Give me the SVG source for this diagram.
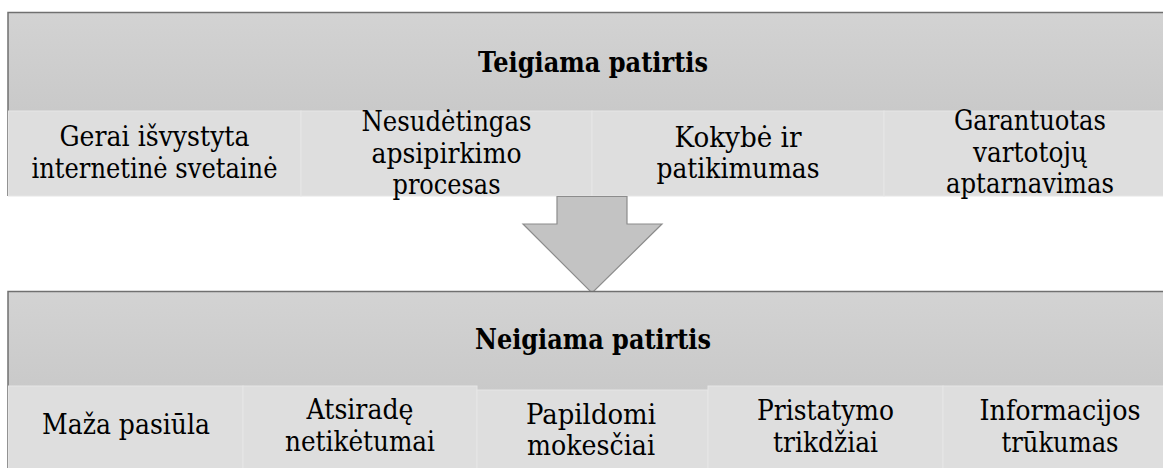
<svg xmlns="http://www.w3.org/2000/svg" width="1163" height="468" viewBox="0 0 1163 468">
<defs>
<linearGradient id="hdr" x1="0" y1="0" x2="0" y2="1">
<stop offset="0" stop-color="#d3d3d3"/>
<stop offset="1" stop-color="#c9c9c9"/>
</linearGradient>
<style>
.hdr{fill:url(#hdr);}
.cell{fill:#dedede;stroke:#e6e6e6;stroke-width:1;}
.border{fill:none;stroke:#707070;stroke-width:1.5;}
.arrow{fill:#c3c3c3;stroke:#8c8c8c;stroke-width:1.2;}
text{font-family:'DejaVu Serif','Liberation Serif',serif;font-size:28px;fill:#000;text-anchor:middle;}
.h{font-weight:bold;}
</style>
</defs>
<rect width="1163" height="468" fill="#ffffff"/>
<g id="top-group">
<rect class="hdr" x="8" y="12" width="1170" height="99"/>
<text class="h" x="593" y="72" textLength="230" lengthAdjust="spacingAndGlyphs">Teigiama patirtis</text>
<path class="border" d="M8,196 V12.5 H1170"/>
</g>
<g id="top-cell-1">
<rect class="cell" x="8.5" y="111" width="292.5" height="85"/>
<text x="154.5" y="146" textLength="190" lengthAdjust="spacingAndGlyphs">Gerai išvystyta</text>
<text x="154.5" y="177.5" textLength="246" lengthAdjust="spacingAndGlyphs">internetinė svetainė</text>
</g>
<g id="top-cell-2">
<rect class="cell" x="301" y="111" width="291" height="85"/>
<text x="446.5" y="131" textLength="170" lengthAdjust="spacingAndGlyphs">Nesudėtingas</text>
<text x="446.5" y="162.5" textLength="150" lengthAdjust="spacingAndGlyphs">apsipirkimo</text>
<text x="446.5" y="194" textLength="108" lengthAdjust="spacingAndGlyphs">procesas</text>
</g>
<g id="top-cell-3">
<rect class="cell" x="592" y="111" width="292" height="85"/>
<text x="738" y="147" textLength="127" lengthAdjust="spacingAndGlyphs">Kokybė ir</text>
<text x="738" y="178" textLength="163" lengthAdjust="spacingAndGlyphs">patikimumas</text>
</g>
<g id="top-cell-4">
<rect class="cell" x="884" y="111" width="292" height="85"/>
<text x="1030" y="130" textLength="152" lengthAdjust="spacingAndGlyphs">Garantuotas</text>
<text x="1030" y="161.5" textLength="114" lengthAdjust="spacingAndGlyphs">vartotojų</text>
<text x="1030" y="193" textLength="168" lengthAdjust="spacingAndGlyphs">aptarnavimas</text>
</g>
<g id="connectors">
<path class="arrow" d="M557,196.5 H627 V224 H662 L592,293 L523,224 H557 Z"/>
</g>
<g id="bottom-group">
<rect class="hdr" x="8" y="291" width="1170" height="100"/>
<text class="h" x="593" y="349" textLength="236" lengthAdjust="spacingAndGlyphs">Neigiama patirtis</text>
<path class="border" d="M8,468 V291.5 H1170"/>
</g>
<g id="bottom-cell-1">
<rect class="cell" x="8.5" y="386" width="234.5" height="90"/>
<text x="126" y="434" textLength="168" lengthAdjust="spacingAndGlyphs">Maža pasiūla</text>
</g>
<g id="bottom-cell-2">
<rect class="cell" x="243" y="386" width="234" height="90"/>
<text x="360" y="419" textLength="107" lengthAdjust="spacingAndGlyphs">Atsiradę</text>
<text x="360" y="451" textLength="150" lengthAdjust="spacingAndGlyphs">netikėtumai</text>
</g>
<g id="bottom-cell-3">
<rect class="cell" x="477" y="390" width="231" height="90"/>
<text x="591" y="424" textLength="130" lengthAdjust="spacingAndGlyphs">Papildomi</text>
<text x="591" y="455" textLength="128" lengthAdjust="spacingAndGlyphs">mokesčiai</text>
</g>
<g id="bottom-cell-4">
<rect class="cell" x="708" y="386" width="235" height="90"/>
<text x="825.5" y="420" textLength="137" lengthAdjust="spacingAndGlyphs">Pristatymo</text>
<text x="825.5" y="451.5" textLength="105" lengthAdjust="spacingAndGlyphs">trikdžiai</text>
</g>
<g id="bottom-cell-5">
<rect class="cell" x="943" y="386" width="235" height="90"/>
<text x="1060" y="420" textLength="161" lengthAdjust="spacingAndGlyphs">Informacijos</text>
<text x="1060" y="451.5" textLength="117" lengthAdjust="spacingAndGlyphs">trūkumas</text>
</g>
</svg>
